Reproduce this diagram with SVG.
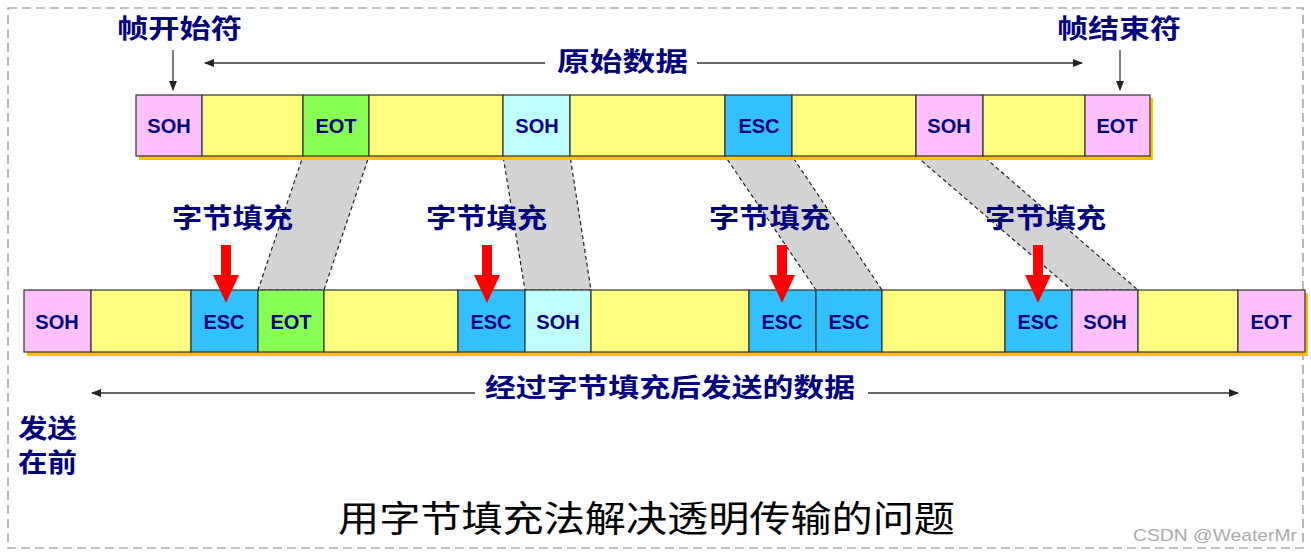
<svg xmlns="http://www.w3.org/2000/svg" width="1311" height="554" viewBox="0 0 1311 554">
<style>
.c{stroke:#333;stroke-width:1.2}
.y{fill:#FFFF80}.p{fill:#FFC0FF}.g{fill:#88FF55}.b{fill:#33C0FF}.cy{fill:#C0FFFF}
.t{font-family:"Liberation Sans",Arial,sans-serif;font-weight:bold;font-size:20px;fill:#000080;text-anchor:middle}
.cj{font-family:"Noto Sans CJK SC",sans-serif;fill:#000080;font-weight:bold}
.sh{fill:#FFC000}
.band{fill:#D3D3D3;stroke:#222;stroke-width:1.2;stroke-dasharray:4 3}
.ln{stroke:#333;stroke-width:1.3;fill:none}
</style>
<defs>
<marker id="ah" markerWidth="10" markerHeight="8" refX="9" refY="4" orient="auto" markerUnits="userSpaceOnUse"><path d="M0,0 L10,4 L0,8 Z" fill="#222"/></marker>
</defs>
<rect x="8" y="8" width="1295" height="540" fill="none" stroke="#888" stroke-width="1.2" stroke-dasharray="9 5"/>
<g id="connectors">
<polygon class="band" points="303,156 369,156 324,290 258,290"/>
<polygon class="band" points="503,156 570,156 591,290 525,290"/>
<polygon class="band" points="725,156 792,156 882,290 816,290"/>
<polygon class="band" points="916,156 983,156 1138,290 1072,290"/>
<line class="ln" x1="173" y1="50" x2="173" y2="90" marker-end="url(#ah)"/>
<line class="ln" x1="1120" y1="50" x2="1120" y2="90" marker-end="url(#ah)"/>
<line class="ln" x1="545" y1="63" x2="205" y2="63" marker-end="url(#ah)"/>
<line class="ln" x1="697" y1="63" x2="1082" y2="63" marker-end="url(#ah)"/>
<line class="ln" x1="475" y1="393" x2="92" y2="393" marker-end="url(#ah)"/>
<line class="ln" x1="868" y1="393" x2="1238" y2="393" marker-end="url(#ah)"/>
</g>
<g id="top-frame">
<rect class="sh" x="139" y="156" width="1014" height="4"/>
<rect class="sh" x="1150" y="98" width="3" height="62"/>
<rect class="c p" x="136" y="95" width="66" height="61"/><text class="t" x="169" y="133">SOH</text>
<rect class="c y" x="202" y="95" width="101" height="61"/>
<rect class="c g" x="303" y="95" width="66" height="61"/><text class="t" x="336" y="133">EOT</text>
<rect class="c y" x="369" y="95" width="134" height="61"/>
<rect class="c cy" x="503" y="95" width="67" height="61"/><text class="t" x="537" y="133">SOH</text>
<rect class="c y" x="570" y="95" width="155" height="61"/>
<rect class="c b" x="725" y="95" width="67" height="61"/><text class="t" x="759" y="133">ESC</text>
<rect class="c y" x="792" y="95" width="124" height="61"/>
<rect class="c p" x="916" y="95" width="67" height="61"/><text class="t" x="949" y="133">SOH</text>
<rect class="c y" x="983" y="95" width="102" height="61"/>
<rect class="c p" x="1085" y="95" width="65" height="61"/><text class="t" x="1117" y="133">EOT</text>
</g>
<g id="bottom-frame">
<rect class="sh" x="27" y="352" width="1281" height="4"/>
<rect class="sh" x="1305" y="293" width="3" height="63"/>
<rect class="c p" x="24" y="290" width="67" height="62"/><text class="t" x="57" y="329">SOH</text>
<rect class="c y" x="91" y="290" width="100" height="62"/>
<rect class="c b" x="191" y="290" width="67" height="62"/><text class="t" x="224" y="329">ESC</text>
<rect class="c g" x="258" y="290" width="66" height="62"/><text class="t" x="291" y="329">EOT</text>
<rect class="c y" x="324" y="290" width="134" height="62"/>
<rect class="c b" x="458" y="290" width="67" height="62"/><text class="t" x="491" y="329">ESC</text>
<rect class="c cy" x="525" y="290" width="66" height="62"/><text class="t" x="558" y="329">SOH</text>
<rect class="c y" x="591" y="290" width="158" height="62"/>
<rect class="c b" x="749" y="290" width="67" height="62"/><text class="t" x="782" y="329">ESC</text>
<rect class="c b" x="816" y="290" width="66" height="62"/><text class="t" x="849" y="329">ESC</text>
<rect class="c y" x="882" y="290" width="123" height="62"/>
<rect class="c b" x="1005" y="290" width="67" height="62"/><text class="t" x="1038" y="329">ESC</text>
<rect class="c p" x="1072" y="290" width="66" height="62"/><text class="t" x="1105" y="329">SOH</text>
<rect class="c y" x="1138" y="290" width="100" height="62"/>
<rect class="c p" x="1238" y="290" width="67" height="62"/><text class="t" x="1271" y="329">EOT</text>
</g>
<g id="stuff-arrows" fill="#FF0000">
<polygon points="221,245 231,245 231,275 239,275 226,303 213,275 221,275"/>
<polygon points="482,245 492,245 492,275 500,275 487,303 474,275 482,275"/>
<polygon points="777,245 787,245 787,275 795,275 782,303 769,275 777,275"/>
<polygon points="1033,245 1043,245 1043,275 1051,275 1038,303 1025,275 1033,275"/>
</g>
<g id="labels">
<text class="cj" x="117" y="38" font-size="26" textLength="125" lengthAdjust="spacingAndGlyphs">帧开始符</text>
<text class="cj" x="1057" y="38" font-size="26" textLength="124" lengthAdjust="spacingAndGlyphs">帧结束符</text>
<text class="cj" x="557" y="71" font-size="26" textLength="131" lengthAdjust="spacingAndGlyphs">原始数据</text>
<text class="cj" x="172" y="228" font-size="27" textLength="121" lengthAdjust="spacingAndGlyphs">字节填充</text>
<text class="cj" x="426" y="228" font-size="27" textLength="121" lengthAdjust="spacingAndGlyphs">字节填充</text>
<text class="cj" x="709" y="228" font-size="27" textLength="121" lengthAdjust="spacingAndGlyphs">字节填充</text>
<text class="cj" x="985" y="228" font-size="27" textLength="121" lengthAdjust="spacingAndGlyphs">字节填充</text>
<text class="cj" x="485" y="397" font-size="26" textLength="370" lengthAdjust="spacingAndGlyphs">经过字节填充后发送的数据</text>
<text class="cj" x="18" y="438" font-size="26" textLength="59" lengthAdjust="spacingAndGlyphs">发送</text>
<text class="cj" x="18" y="472" font-size="26" textLength="59" lengthAdjust="spacingAndGlyphs">在前</text>
<text x="338" y="532" font-family="Noto Sans CJK SC,sans-serif" font-size="36" fill="#000" textLength="617" lengthAdjust="spacingAndGlyphs">用字节填充法解决透明传输的问题</text>
<text x="1133" y="541" font-family="Liberation Sans,sans-serif" font-size="17" fill="#aaa" textLength="164" lengthAdjust="spacingAndGlyphs">CSDN @WeaterMr</text>
</g>
</svg>
